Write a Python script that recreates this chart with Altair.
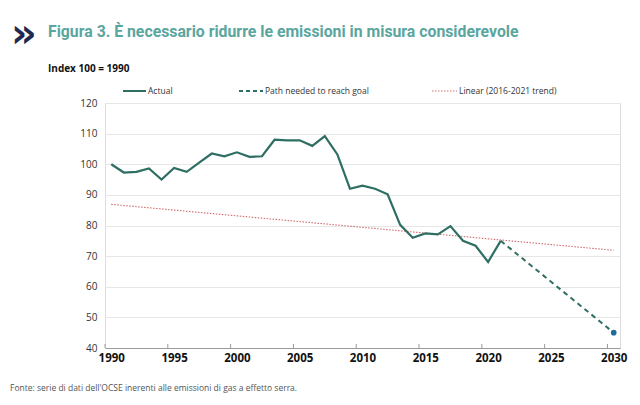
import altair as alt
import pandas as pd

# ---- data ----
years = list(range(1990, 2022))
actual = [100.0, 97.3, 97.5, 98.6, 95.0, 98.8, 97.5, 100.5, 103.5, 102.6,
          103.9, 102.4, 102.6, 108.0, 107.8, 107.8, 106.0, 109.2, 103.2, 92.0,
          93.0, 92.0, 90.2, 80.2, 76.0, 77.4, 77.1, 79.8, 75.0, 73.4,
          68.1, 75.0]
path_years = [2021, 2030]
path_values = [75.0, 45.0]
trend_years = [1990, 2030]
trend_values = [86.9, 71.9]
goal_year = [2030]
goal_value = [45.0]
x_ticks = [1990, 1995, 2000, 2005, 2010, 2015, 2020, 2025, 2030]
y_ticks = [40, 50, 60, 70, 80, 90, 100, 110, 120]

title = "Figura 3. È necessario ridurre le emissioni in misura considerevole"
subtitle = "Index 100 = 1990"
source = "Fonte: serie di dati dell'OCSE inerenti alle emissioni di gas a effetto serra."
legend_labels = ["Actual", "Path needed to reach goal", "Linear (2016-2021 trend)"]

# ---- layout ----
W, H = 515, 245
BAND = W / 41.0
TEAL = "#2e6e63"
FONT = "Open Sans"

df_actual = pd.DataFrame({"year": years, "value": actual})
df_path = pd.DataFrame({"year": path_years, "value": path_values})
df_trend = pd.DataFrame({"year": trend_years, "value": trend_values})
df_goal = pd.DataFrame({"year": goal_year, "value": goal_value})
df_ticks = pd.DataFrame({"year": x_ticks})

xscale = alt.Scale(domain=[1989.5, 2030.5], nice=False, zero=False)
yscale = alt.Scale(domain=[40, 120], nice=False, zero=False)

x_axis = alt.Axis(values=x_ticks, format="d", title=None, ticks=False,
                  tickOffset=-BAND / 2, labelOffset=BAND / 2,
                  domainColor="#9a9a9a", domainWidth=1,
                  labelFont=FONT, labelFontWeight="bold", labelFontSize=11.5,
                  labelColor="#111111", labelPadding=4, grid=False)
y_axis = alt.Axis(values=y_ticks, title=None, ticks=False, domain=False,
                  grid=True, gridColor="#e6e6e6", gridWidth=1,
                  labelFont=FONT, labelFontSize=10, labelColor="#333333",
                  labelPadding=8)

X = alt.X("year:Q", scale=xscale, axis=x_axis)
Y = alt.Y("value:Q", scale=yscale, axis=y_axis)

trend = alt.Chart(df_trend).mark_line(color="#d06a6a", strokeWidth=1.1,
                                      strokeDash=[1.5, 1.5]).encode(x=X, y=Y)
actual_line = alt.Chart(df_actual).mark_line(color=TEAL, strokeWidth=2.2).encode(x=X, y=Y)
path_line = alt.Chart(df_path).mark_line(color=TEAL, strokeWidth=2,
                                         strokeDash=[5, 4]).encode(x=X, y=Y)
goal_pt = alt.Chart(df_goal).mark_circle(color="#1f6b9c", size=32, opacity=1).encode(x=X, y=Y)
ticks = alt.Chart(df_ticks).mark_rule(color="#9a9a9a", strokeWidth=1,
                                      xOffset=-BAND / 2).encode(
    x=X, y=alt.value(H - 4), y2=alt.value(H))


def text_layer(txt, x, y, size, color, weight="normal", font=FONT, align="left"):
    return alt.Chart(pd.DataFrame({"t": [txt]})).mark_text(
        align=align, baseline="middle", font=font, fontSize=size,
        fontWeight=weight, color=color).encode(
        text="t:N", x=alt.value(x), y=alt.value(y))


def legend_rule(x1, x2, y, color, dash=None, width=2):
    kw = dict(color=color, strokeWidth=width)
    if dash:
        kw["strokeDash"] = dash
    return alt.Chart(pd.DataFrame({"a": [0]})).mark_rule(**kw).encode(
        x=alt.value(x1), x2=alt.value(x2), y=alt.value(y))


LY = -12
leg = [
    legend_rule(18, 41, LY, TEAL, None, 2),
    text_layer(legend_labels[0], 43, LY, 8.5, "#333333"),
    legend_rule(134, 158, LY, TEAL, [4, 3], 1.8),
    text_layer(legend_labels[1], 160, LY, 8.5, "#333333"),
    legend_rule(327, 352, LY, "#d06a6a", [1.5, 1.5], 1),
    text_layer(legend_labels[2], 354, LY, 8.5, "#333333"),
]

texts = [
    text_layer("»", -94, -68, 40, "#1f2a4e", "bold", "DejaVu Sans", "left"),
    text_layer(title, -57, -71, 15.8, "#5aa69e", "bold", "Liberation Sans Narrow, Roboto, sans-serif"),
    text_layer(subtitle, -57, -34, 10, "#111111", "bold"),
    text_layer(source, -95, 285, 8.5, "#555555"),
]

chart = alt.layer(trend, actual_line, path_line, goal_pt, ticks, *leg, *texts).properties(
    width=W, height=H,
    autosize="none",
    padding={"left": 97, "top": 95, "right": 12, "bottom": 49},
).configure_view(stroke="#ececec", strokeWidth=1).configure(background="white")

chart.save("out.html", embed_options={"renderer": "svg", "actions": False})
